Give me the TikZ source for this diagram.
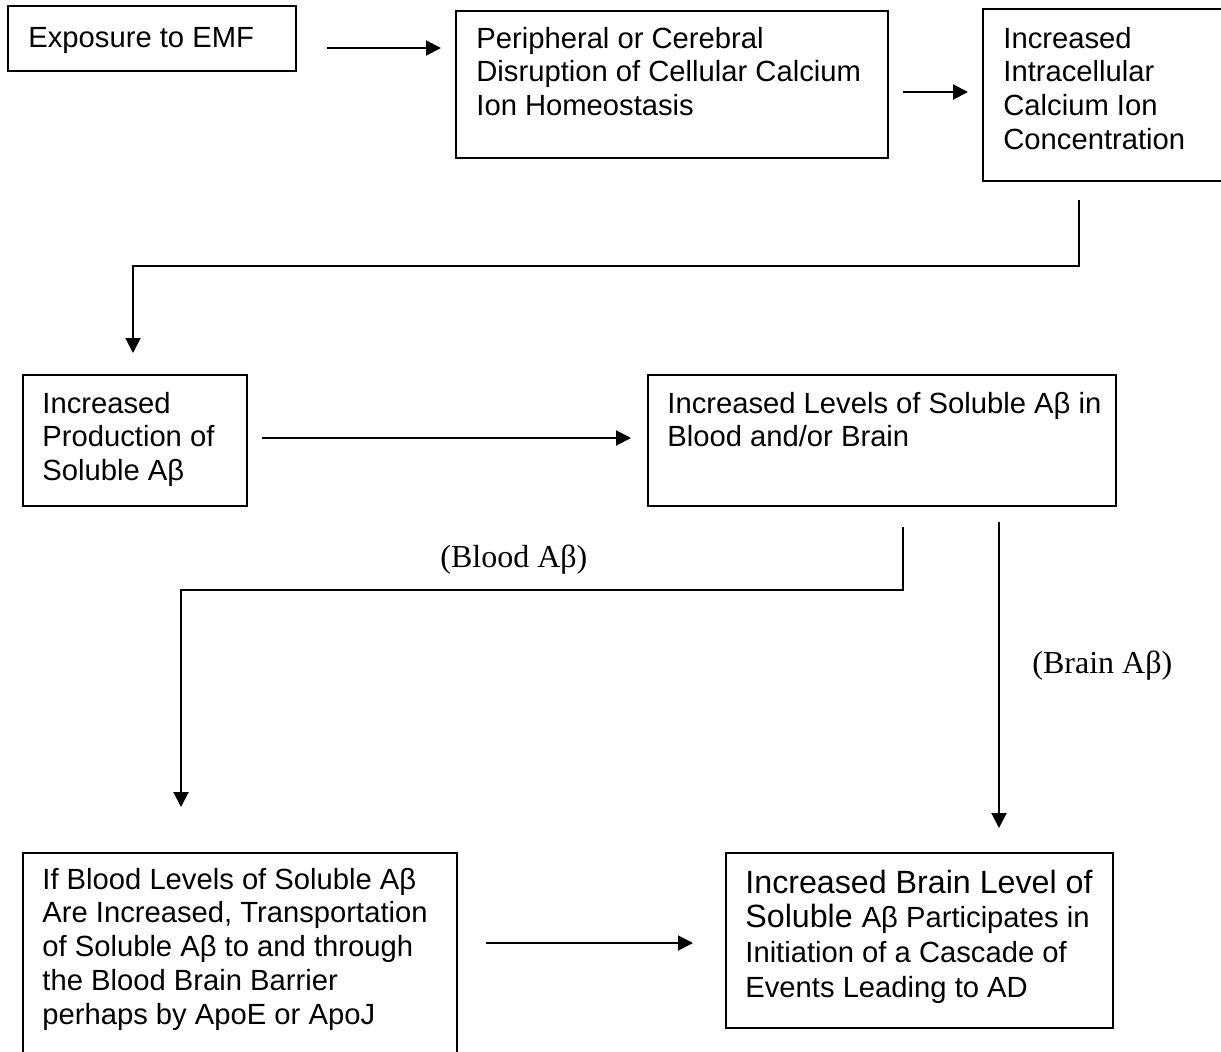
\documentclass[tikz,border=0pt]{standalone}
\usepackage{fontspec}
\setmainfont{Liberation Sans}
\newfontfamily\serifo{Liberation Serif}
\usetikzlibrary{arrows.meta}
\newcommand{\bigsz}{\fontsize{16.1}{17.4}\selectfont}
\newcommand{\smallsz}{\fontsize{14.6}{17.4}\selectfont}
\begin{document}
\begin{tikzpicture}[x=0.5pt,y=-0.5pt,
  boxr/.style={draw,line width=1pt,inner sep=0pt,anchor=north west},
  txt/.style={inner sep=0pt,anchor=base west,align=left,font=\fontsize{14.6}{16.9}\selectfont},
  bigtxt/.style={inner sep=0pt,anchor=base west,align=left,font=\bigsz},
  lab/.style={inner sep=0pt,anchor=base west,font=\serifo\fontsize{16}{18}\selectfont},
  conn/.style={line width=1pt,-{Triangle[length=7.5pt,width=7.5pt]}}]
\useasboundingbox (0,0) rectangle (1221,1051);
% boxes
\node[boxr,minimum width=144pt,minimum height=32.5pt] (b1) at (7,5) {};
\node[boxr,minimum width=216pt,minimum height=73.5pt] (b2) at (455,10) {};
\node[boxr,minimum width=120pt,minimum height=86pt] (b3) at (982,8) {};
\node[boxr,minimum width=112pt,minimum height=65.5pt] (b4) at (22,374) {};
\node[boxr,minimum width=234pt,minimum height=65.5pt] (b5) at (647,374) {};
\node[boxr,minimum width=217pt,minimum height=110pt] (b6) at (22,852) {};
\node[boxr,minimum width=193.5pt,minimum height=87.5pt] (b7) at (725,852) {};
% texts (anchored at the baseline of the last line)
\node[txt] (t1) at (28,47) {Exposure to EMF};
\node[txt] (t2) at (476,115.6) {Peripheral or Cerebral\\Disruption of Cellular Calcium\\Ion Homeostasis};
\node[txt] (t3) at (1003,149.4) {Increased\\Intracellular\\Calcium Ion\\Concentration};
\node[txt] (t4) at (42,480.6) {Increased\\Production of\\Soluble Aβ};
\node[txt] (t5) at (667,446.8) {Increased Levels of Soluble Aβ in\\Blood and/or Brain};
\node[txt] (t6) at (42,1024.2) {If Blood Levels of Soluble Aβ\\Are Increased, Transportation\\of Soluble Aβ to and through\\the Blood Brain Barrier\\perhaps by ApoE or ApoJ};
\node[bigtxt] (t7) at (745,997.4) {Increased Brain Level of\\Soluble \smallsz Aβ Participates in\\\smallsz Initiation of a Cascade of\\\smallsz Events Leading to AD};
\node[lab] (l1) at (440,567) {(Blood Aβ)};
\node[lab] (l2) at (1032,673) {(Brain Aβ)};
% connector anchors
\coordinate (a1s) at (327,48); \coordinate (a1e) at (441,48);
\coordinate (a2s) at (903,92); \coordinate (a2e) at (968,92);
\coordinate (c3s) at (1079,200); \coordinate (c3e) at (133,353);
\coordinate (a4s) at (262,438); \coordinate (a4e) at (631,438);
\coordinate (c5s) at (903,527); \coordinate (c5e) at (181,807);
\coordinate (c6s) at (999,522); \coordinate (c6e) at (999,828);
\coordinate (a7s) at (486,943); \coordinate (a7e) at (693,943);
\draw[conn] (a1s) -- (a1e);
\draw[conn] (a2s) -- (a2e);
\draw[conn] (c3s) |- (133,266) -- (c3e);
\draw[conn] (a4s) -- (a4e);
\draw[conn] (c5s) |- (181,590) -- (c5e);
\draw[conn] (c6s) -- (c6e);
\draw[conn] (a7s) -- (a7e);
\end{tikzpicture}
\end{document}
